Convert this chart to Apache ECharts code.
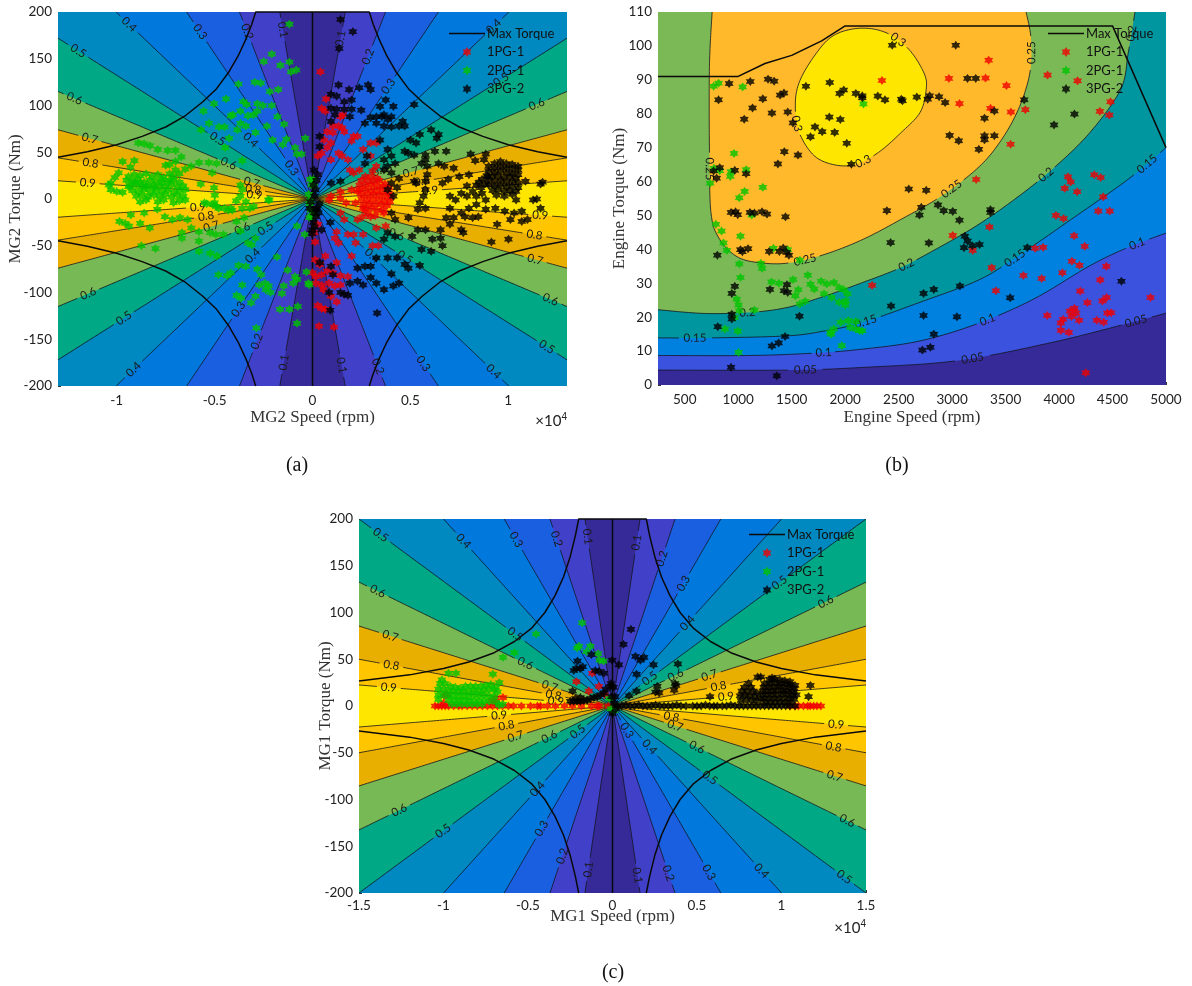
<!DOCTYPE html>
<html><head><meta charset="utf-8">
<style>html,body{margin:0;padding:0;background:#fff}#c{width:1192px;height:986px}</style>
<script src="https://cdn.jsdelivr.net/npm/echarts@6/dist/echarts.min.js"></script>
</head><body><div id="c"></div>
<script>
// ---------- legend names ----------
const seriesNames = ['Max Torque','1PG-1','2PG-1','3PG-2'];

// ---------- motor efficiency levels (rays from origin, read at the plot edge) ----------
const motorLevels = [0.1,0.2,0.3,0.4,0.5,0.6,0.7,0.8,0.9];
const motorBandColors = ['#352A98','#4040C8','#1A5FE0','#0078DC','#0088C0','#00A886','#77B954','#E8AF00','#FFC600','#FFE600'];
const rayEndSpeedA = [1670,3730,6430,10030,13000,13000,13000,13000,13000];
const rayEndTorqueA = [200,200,200,200,172,115,74,44,19.5];
const rayEndSpeedC = [1630,3700,6410,10000,15000,15000,15000,15000,15000];
const rayEndTorqueC = [200,200,200,200,200,132.5,85.5,50,22.5];

// ---------- max torque curves ----------
const maxTorqueA = [[-13000,44.6],[-11500,50.5],[-10000,58],[-8700,67],[-7500,77],[-6500,89],[-5600,104],[-4900,118],[-4300,135],[-3800,153],[-3400,171],[-3100,187],[-2900,200],[2900,200],[3100,187],[3400,171],[3800,153],[4300,135],[4900,118],[5600,104],[6500,89],[7500,77],[8700,67],[10000,58],[11500,50.5],[13000,44.6],[NaN,NaN],
 [-13000,-44.6],[-11500,-50.5],[-10000,-58],[-8700,-67],[-7500,-77],[-6500,-89],[-5600,-104],[-4900,-118],[-4300,-135],[-3800,-153],[-3400,-171],[-3100,-187],[-2900,-200],[NaN,NaN],
 [2900,-200],[3100,-187],[3400,-171],[3800,-153],[4300,-135],[4900,-118],[5600,-104],[6500,-89],[7500,-77],[8700,-67],[10000,-58],[11500,-50.5],[13000,-44.6],[NaN,NaN],[0,-200],[0,200]];
const maxTorqueC = [[-15000,26.7],[-12000,33.3],[-10000,40],[-8500,47],[-7000,57],[-5800,69],[-4800,83],[-4000,100],[-3400,118],[-2900,138],[-2500,160],[-2200,182],[-2000,200],[2000,200],[2200,182],[2500,160],[2900,138],[3400,118],[4000,100],[4800,83],[5800,69],[7000,57],[8500,47],[10000,40],[12000,33.3],[15000,26.7],[NaN,NaN],
 [-15000,-26.7],[-12000,-33.3],[-10000,-40],[-8500,-47],[-7000,-57],[-5800,-69],[-4800,-83],[-4000,-100],[-3400,-118],[-2900,-138],[-2500,-160],[-2200,-182],[-2000,-200],[NaN,NaN],
 [2000,-200],[2200,-182],[2500,-160],[2900,-138],[3400,-118],[4000,-100],[4800,-83],[5800,-69],[7000,-57],[8500,-47],[10000,-40],[12000,-33.3],[15000,-26.7],[NaN,NaN],[0,-200],[0,200]];
const maxTorqueB = [[250,91],[1000,91],[1250,94.8],[1500,97.2],[1780,101.5],[2000,105.9],[4500,105.9],[5000,70]];

// ---------- engine efficiency contours ----------
const engineBandColors = ['#352A98','#3B52DE','#0080DF','#0096A0','#7AB956','#FFB92A','#FFE600'];
const engineLevels = [0.05,0.1,0.15,0.2,0.25,0.3];
const engine005 = [[250,4.4],[1463,4.4],[2170,5.2],[3055,7.2],[3940,12.6],[4647,18.2],[5000,21.2]];
const engine010 = [[250,8.7],[1110,8.7],[1710,9.4],[2170,10.6],[2700,13],[3230,18],[3760,25.3],[4290,35.2],[4647,40.6],[5000,44.8]];
const engine015 = [[250,13.9],[756,13.9],[1463,14.5],[1817,16],[2170,18.5],[2700,24.4],[3230,30.7],[3568,37],[4116,48.9],[4647,60.7],[5000,70]];
const engine020 = [[250,22.2],[685,21.1],[1110,21.4],[1463,22.9],[1817,26.3],[2170,30.3],[2525,34.7],[2880,40.6],[3230,47],[3586,54.8],[3940,63.7],[4290,74.5],[4576,87.2],[4647,98],[4710,110]];
const engine025 = [[756,110],[731,94],[731,69.5],[745,50.9],[826,43],[1003,37.6],[1251,35.9],[1499,36.1],[1817,38.6],[2170,43],[2525,48.9],[2880,55.3],[3230,63.7],[3444,71.5],[3620,81.3],[3727,92],[3738,102],[3692,110]];
const engine030 = [[2135,105.2],[2383,103.9],[2595,99],[2737,92],[2758,87.2],[2701,80.4],[2525,74.5],[2312,68.6],[2100,65.1],[1905,64.9],[1711,67.6],[1570,74.5],[1534,82.3],[1570,89.2],[1711,97],[1888,103],[2135,105.2]];

// ---------- contour labels [level, speed, torque] ----------
const labelsA = [[.4,-9340,188],[.3,-5750,178],[.2,-3360,180],[.1,-1470,180],[.1,1390,172],[.2,2870,153],[.3,3840,120],[.5,9570,131],[.4,9240,186],[.6,11460,103],[.5,-11980,160],[.6,-12110,108],[.7,-11400,66],[.8,-11400,38.5],[.9,-11440,18],[.5,-4780,64.5],[.4,-3140,63],[.6,-4260,38.5],[.7,-3160,19],[.8,-2950,10],[.9,-2910,4.6],[.3,-945,33],[.9,-5840,-8],[.8,-5520,-18],[.7,-5130,-29],[.6,-3630,-31],[.5,-2430,-31],[.4,-3050,-60],[.3,-3840,-118],[.2,-2910,-152],[.1,-1470,-174],[.4,-9220,-182],[.5,-9630,-127],[.6,-11460,-100],[.1,1490,-179],[.2,3400,-178],[.3,5710,-177],[.4,9300,-185],[.5,11980,-158],[.6,12100,-107],[.7,11360,-64],[.8,11400,-37],[.9,11600,-17],[.6,4220,-38],[.5,4800,-61],[.4,3070,-60],[.9,5960,10],[.8,5670,19],[.7,5090,29],[.6,3450,31]];
const labelsB = [[.3,2514,102.6],[.3,2153,67],[.3,1552,77.4],[.25,3745,98],[.25,2967,59.7],[.25,1605,38],[.25,745,64],[.2,4647,103.4],[.2,3851,62.9],[.2,2560,35.5],[.2,1074,21.6],[.15,4795,65.6],[.15,3568,38.6],[.15,2188,19.5],[.15,597,13.9],[.1,4735,41],[.1,3320,20.2],[.1,1806,9.8],[.05,4710,18.5],[.05,3186,7.7],[.05,1630,4.4]];
const labelsC = [[.5,-13760,183],[.4,-8770,176],[.3,-5740,178],[.2,-3360,179],[.1,-1510,180],[.1,1420,175],[.2,2940,159],[.3,4210,130],[.4,4430,88],[.5,9950,132],[.6,12620,112],[.6,-13890,123],[.7,-13110,76],[.8,-13160,44],[.9,-13200,20],[.5,-5810,78],[.6,-5100,45],[.7,-3740,22],[.8,-3470,12],[.9,-3360,6.4],[.9,-6660,-10],[.8,-6300,-20],[.7,-5740,-32],[.6,-3810,-33.5],[.5,-2140,-28],[.4,2200,-45],[.3,760,-27],[.5,2090,30],[.6,3720,33],[.7,5650,32],[.8,6280,21],[.9,6660,10],[.8,3430,-10],[.7,3760,-20],[.9,13220,-19],[.8,13160,-43.5],[.7,13110,-74],[.6,5050,-44],[.5,5810,-77],[.6,13930,-124],[.5,13710,-182],[.4,8770,-175],[.3,5720,-177],[.2,3360,-179],[.1,1490,-180],[.1,-1510,-175],[.2,-3030,-159],[.3,-4250,-130],[.4,-4470,-89],[.5,-10080,-133],[.6,-12640,-110]];

// ---------- operating points, panel (a) ----------
const redA = [[405,136],[694,107],[463,97],[656,94],[1430,88],[1560,90],[1040,78],[1330,78],[1520,76],[750,72],[1040,71],[1620,72],[2100,67],[2300,67],[2000,62],[600,63],[945,60],[750,55],[1330,49],[1520,46],[463,49],[270,46],[945,42],[1810,42],[2970,60],[3260,60],[2585,53],[2970,46],[1910,31],[2100,28],[2390,31],[3260,35],[3070,30],
[1430,8],[850,-1],[945,3],[1430,1],[2000,10],[2300,8],[1720,-4],[1430,-15],[2200,-4],[2585,-10],[2300,-22],[2970,-19],[3650,-15],[1620,-22],[1235,-35],[1140,-42],[1330,-47],[1810,-38],[2100,-38],[2585,-38],[2200,-47],[2000,-61],[3070,-50],[3360,-50],[3260,-31],[3740,-29],
[135,-65],[656,-61],[367,-70],[1235,-68],[0,-79],[170,-83],[463,-81],[750,-77],[1040,-79],[1430,-82],[1810,-83],[170,-90],[463,-92],[850,-90],[1140,-93],[1430,-92],[560,-97],[945,-104],[1235,-110],[270,-114],[463,-117],[656,-118],[328,-136],[1100,-137],[135,-46],[77,-36],[270,-27],
[2700,24],[3000,24],[3300,22],[2500,20],[2800,20],[3100,19],[3400,20],[3700,16],[2400,15],[2700,15],[3000,15],[3300,14],[3600,13],[3900,12],[2400,10],[2700,10],[3000,9],[3300,9],[3600,8],[3900,6],[2500,5],[2800,4],[3100,5],[3400,4],[3700,3],[4000,2],[2500,0],[2800,-1],[3100,0],[3400,-1],[3700,-2],[3950,-3],[2600,-6],[2900,-5],[3200,-6],[3500,-6],[3800,-7],[2700,-11],[3000,-10],[3300,-12],[3600,-12],[2800,-16],[3200,-18],[2550,-19]];
const greenA = [[-1180,187],[-2080,155],[-2490,147],[-1180,146.5],[-1640,143],[-1100,136],[-830,138],[-2950,125],[-2640,124],[-3780,123],[-2180,115],[-1750,117],[-4420,107],[-5570,94],[-5030,102],[-3530,104],[-3360,101],[-2820,102],[-2530,100],[-2080,100],[-4170,89],[-4070,90],[-3680,94],[-3300,89],[-3010,90],[-2820,94],[-1790,88],[-5290,81],[-4780,77],[-4490,77],[-3680,81],[-3400,78],[-2330,78],[-1450,80],[-5690,74],[-4260,65],[-3840,74],[-2910,71],[-2040,63],[-1330,64],[-370,65],[-4460,55],[-890,55],[-790,48],[-560,48],[-1520,58],[-3590,41],
[-8900,60],[-8600,59],[-8300,57],[-7900,53],[-7400,52],[-7000,52],[-6700,45],[-7000,40],[-7300,37],[-7500,36],[-9700,40],[-9100,41],[-9300,34],[-9900,28],[-10100,23],[-10300,17],[-10400,15],[-10300,10],[-10000,8],[-9700,7],[-9400,13],[-9100,18],[-8800,17],[-8500,13],[-8100,15],[-7700,17],[-7300,20],[-7100,24],[-6800,27],[-6500,32],[-6200,35],[-5800,39],[-5300,39],[-4900,38],
[-9400,24],[-9100,26],[-8800,25],[-8500,27],[-8200,24],[-7900,26],[-7600,23],[-7300,27],[-7000,31],[-9500,20],[-9200,19],[-8900,21],[-8600,18],[-8300,20],[-8000,19],[-7700,21],[-7400,18],[-7100,20],[-6800,18],[-9300,14],[-9000,15],[-8700,13],[-8400,14],[-8100,12],[-7800,14],[-7500,13],[-7200,15],[-6900,13],[-6600,14],[-9200,9],[-8900,8],[-8600,10],[-8300,7],[-8000,9],[-7700,8],[-7400,10],[-7100,7],[-6800,9],[-6500,10],[-9000,3],[-8700,4],[-8400,2],[-8100,4],[-7800,3],[-7500,5],[-7200,2],[-6900,4],[-6600,3],
[-8800,-3],[-8500,-1],[-7900,-3],[-7600,-1],[-7100,-4],[-6800,-2],[-6500,-1],[-5400,-5],[-5100,-6],[-5000,-4],[-4900,-8],[-4800,-10],[-4500,-10],[-4300,-12],[-4100,-12],[-3900,-2],[-3400,-3],[-3000,-8],[-2200,-1],
[-9860,-24],[-9570,-26],[-9370,-29],[-8800,-26],[-9280,-17],[-8310,-31],[-8740,-50],[-8020,-53],[-8600,-15],[-7930,-11],[-7540,-19],[-7160,-22],[-6770,-20],[-6380,-22],[-6190,-31],[-6670,-36],[-6670,-42],[-5800,-35],[-5800,-45],[-5230,-36],[-4940,-38],[-4550,-38],[-5230,-58],[-5800,-56],[-4880,-61],[-3880,-24],[-3590,-10],[-3200,-10],[-3490,-20],[-3300,-47],[-3110,-49],[-2910,-42],[-790,-29],[-400,-38],[-3680,-34],[-4170,-10],
[-4800,-81],[-4360,-82],[-4170,-79],[-3780,-71],[-3400,-72],[-3590,-92],[-3880,-103],[-3650,-106],[-3140,-111],[-2910,-104],[-2820,-75],[-2620,-81],[-2720,-92],[-2430,-90],[-2240,-93],[-2390,-97],[-2140,-100],[-1560,-101],[-1470,-93],[-1810,-62],[-1270,-76],[-890,-83],[-790,-86],[-980,-90],[-310,-78],[-210,-90],[-170,-92],[-1660,-118],[-1180,-118],[-750,-115],[-790,-133],[-2870,-138],
[-120,21],[60,21],[-60,15],[80,14],[-200,5],[-150,-5],[-100,-12],[-150,-20],[-60,-18],[60,-16],[-100,-2],[-5710,16],[-5030,12],[-4990,4],[-3680,15],[-3590,10],[-3680,3],[-2260,-1],[-5130,28],[-5520,-4]];
const blackA = [[1430,192],[2060,179],[1370,161],[1330,122],[1870,117],[2390,119],[2840,122],[2970,117],[945,112],[1235,110],[1620,104],[2000,106],[3740,106],[3450,99],[4130,99],[5190,101],[945,97],[1235,96],[1620,96],[2000,96],[2490,95],[3650,90],[4030,88],[2970,87],[3260,88],[3550,88],[3840,85],[4610,83],[4420,78],[4710,78],[2680,81],[3260,81],[3650,78],[4030,77],[945,83],[1140,90],[1910,88],[5480,69],[6060,74],[6440,69],[6350,65],[5000,63],[5290,60],[4710,51],[4900,49],[5190,47],[5770,47],[6250,51],[6830,51],[8080,48],[8850,48],[8760,42],[8310,41],[5770,42],[5570,38],[5860,35],[6440,38],[6730,35],[7210,33],[365,67],[365,56],
[3450,63],[3840,53],[4030,46],[3650,42],[4220,38],[3840,35],[4030,28],[3650,31],[4420,22],[4030,17],[4320,12],[3840,10],[4130,3],[2680,38],[2780,46],[77,31],[270,26],[945,17],[1430,19],[5190,19],[5860,26],[5770,19],[5290,17],[6930,21],[6640,17],[7500,24],[7990,26],[5770,10],[5670,3],[5480,-4],[5770,-10],[5380,-11],[4900,-20],
[7020,3],[6830,-20],[7020,-10],[7310,-1],[7600,6],[7890,14],[7890,3],[8180,8],[8370,15],[8370,3],[8660,21],[8660,6],[8950,24],[8850,-1],[8370,-6],[7990,-10],[7600,-15],[7210,-20],[7020,-27],[7600,-33],[7700,-36],[6540,-33],[5380,-33],[5770,-33],[5090,-40],[6120,-43],[6540,-42],[6640,-50],[6060,-56],[5570,-54],[5480,-71],[9140,-46],[10010,-43],[9430,-27],[10110,-22],[10690,-24],[10980,-22],[10690,-13],[10300,-15],[9820,-13],[9340,-10],[8850,-11],[8470,-19],[8180,-20],[7790,-19],[11650,-10],[11270,-1],[11460,0],[11650,16],[11750,18],[10880,19],
[9300,38],[9600,40],[9900,38],[10200,37],[10500,35],[9000,35],[9300,33],[9600,35],[9900,33],[10200,32],[10500,31],[9000,30],[9300,28],[9600,30],[9900,28],[10200,27],[10500,26],[8900,25],[9200,24],[9500,25],[9800,23],[10100,24],[10400,22],[9000,20],[9300,19],[9600,20],[9900,18],[10200,19],[10500,17],[9000,15],[9300,14],[9600,15],[9900,13],[10200,14],[10500,12],[9200,9],[9500,10],[9800,8],[10100,9],[10400,8],[9400,4],[9800,3],[10200,5],[10400,-1],[8800,16],[8600,12],[8500,18],
[4030,-15],[4220,-22],[3840,-36],[3650,-43],[4220,-40],[170,-11],[77,-15],[170,-19],[-20,-33],[-20,-37],[463,-33],[906,-25],[2680,-72],[2300,-74],[1910,-90],[2300,-88],[2585,-92],[2970,-72],[3260,-63],[3840,-63],[4320,-63],[2970,-84],[3260,-90],[3650,-97],[4030,-80],[4130,-93],[4420,-90],[4710,-70],[4900,-74],[945,-72],[1040,-81],[367,-68],[850,-100],[906,-119],[3300,-122],[1810,-103],[1620,-102],[1430,-100],
[-100,-3],[100,3],[50,15],[-150,-10],[150,10],[250,-10],[200,20],[300,-15],[350,-5],[50,-25],[100,-30]];

// ---------- operating points, panel (b) ----------
const redB = [[2344,89.8],[3342,95.8],[2970,90.4],[3313,90.5],[3508,88.3],[3893,91.4],[4173,89.7],[3069,83],[3359,81.6],[3550,80.5],[3685,81.2],[3547,71],[4382,80.7],[4481,83.5],[4470,79.6],[3225,60.6],[4084,61.4],[4109,59.9],[4053,58],[4169,57],[4329,62],[4389,61.2],[4413,55.5],[4367,51.3],[4474,51.3],[3971,50],[4042,49.1],[3349,46.6],[3006,44.1],[4141,44],[3777,40.3],[3851,40.6],[4240,40.9],[3193,39.7],[4120,36.5],[4191,35.3],[4442,35],[3370,34.6],[3667,32.3],[3837,31.4],[4031,33.1],[4385,31],[3409,27.8],[4198,27.7],[2252,29.4],[4265,24.3],[4406,24.8],[4445,25.8],[4855,25.8],[3890,20.5],[4038,19.4],[4017,18.3],[4102,21.8],[4144,22.6],[4158,21.2],[4116,20.2],[4187,19.1],[4353,19.1],[4417,18.5],[4452,21.2],[4488,21.3],[4017,16.1],[4091,15.5],[4250,3.6]];
const greenB = [[770,88.1],[816,89],[1042,87.9],[2171,82.9],[961,68.3],[1074,63.5],[933,62.9],[926,61.5],[773,63.9],[827,63.2],[738,59.5],[1060,57.1],[1010,55.2],[1230,58.3],[791,47.4],[844,45.4],[862,41.9],[894,39.7],[1021,43.9],[1127,50.1],[1329,40.3],[1463,39.9],[1576,36.8],[1010,35.7],[1212,35.9],[1223,34.4],[1021,31.7],[1311,30.4],[1382,30],[1513,31.1],[1651,32.4],[1676,29.7],[1711,28.3],[1775,30.6],[1828,29.8],[1895,30.2],[1803,26.9],[1874,25.8],[1944,28.7],[1987,28.1],[2022,26.9],[1944,24.4],[2004,24.8],[2001,23.6],[1562,28.1],[1534,26.3],[1576,23.9],[1626,24.7],[986,25.3],[1003,23.6],[1010,21.9],[1152,22.1],[968,19.9],[876,16.5],[996,15.9],[1003,9.6],[1860,15.5],[1870,15],[1895,16.5],[1958,18.5],[2029,19],[2100,18.7],[2047,17],[2100,16.5],[2135,16],[2160,16],[1969,11.6]];
const blackB = [[915,88.9],[1113,89.5],[1279,90.2],[1336,89.6],[1633,88.1],[1856,89.2],[1948,86],[1987,87],[2100,86],[2160,85.3],[2160,84.7],[2305,85.2],[2372,84.1],[2525,84.3],[2536,83.8],[2670,84.9],[2772,84.3],[2790,85.3],[2878,85],[2935,83.3],[2440,100.2],[3034,100.2],[3144,90.4],[3221,90.4],[816,84.1],[1056,78.4],[1134,81.7],[1230,84.4],[1392,85.5],[1428,86.1],[1315,80.2],[1463,80.5],[1512,77.3],[1676,73.2],[1718,76.1],[1785,74.7],[1902,74.5],[1852,79],[1955,78.3],[2015,71.3],[2058,65.1],[1559,67.8],[1431,68.8],[1371,65.2],[770,63.1],[827,64.1],[798,61],[968,63.3],[1074,62.3],[933,50.9],[975,51.1],[996,50.2],[1110,50.9],[1152,50.7],[1223,51.1],[1269,50.4],[1442,49.6],[805,38.3],[1021,39.9],[1039,39.3],[1092,40.2],[1290,39.4],[1385,39.4],[1421,40.4],[1453,39.1],[1474,38.3],[1297,28.2],[1428,27.8],[1456,29.6],[1463,27.3],[968,29.1],[940,27],[940,19.5],[940,20.9],[809,17.2],[1438,14.3],[1378,12.4],[1315,11.5],[933,5.2],[1361,2.7],[1573,20.3],
[2390,51.4],[2425,42],[2595,57.8],[2758,57.4],[2712,52.4],[2695,50.1],[2868,53.1],[2921,51.4],[3006,51.2],[3069,48.6],[2783,41.9],[3119,43.9],[3144,42.5],[3111,40.5],[3189,41.1],[3256,41.4],[3359,50.9],[3359,51.7],[3703,40.5],[2429,23.3],[2733,20.5],[2829,15],[2829,28.2],[2733,27],[2722,10.3],[2797,11.1],[3073,29.2],[3045,20.1],[3543,25.7],[4583,30.6],[2977,73.6],[3062,72],[3250,69.5],[3303,78.7],[3303,73.5],[3303,72.3],[3395,73.5],[3395,80.8],[3674,84.1],[3953,76.7],[4144,79.9]];

// ---------- operating points, panel (c) ----------
const redC = [[-10500,0],[-10300,0],[-10100,0],[-9900,0],[-9700,0],[-9400,0],[-9100,0],[-8900,0],[-8600,0],[-8300,0],[-8000,0],[-7700,0],[-7400,0],[-7100,0],[-6800,0],[-6500,0],[-6160,0],[-5860,0],[-5390,0],[-4850,0],[-4440,0],[-4260,0],[-3850,0],[-3380,0],[-2840,0],[-2370,0],[-1840,0],[-1240,0],[-890,0],[-800,0],[-245,0],[-1400,16],[-2140,26],[-1200,35],[-800,21],[-470,12],[-9800,12],[-9930,11],[-6920,8],[-6480,9],[-7150,6],[-10000,3],[-6900,3],[10500,0],[10800,0],[11000,0],[11300,0],[11550,0],[11700,0],[11900,0],[12100,0],[12330,0]];
const greenC = [[-1800,89],[-4520,77],[-5810,57],[-6480,52],[-1980,64],[-1310,64],[-2090,62],[-1540,58],[-850,56],[-760,49],[-530,48],[-9700,35],[-9260,35],[-7080,34],[-6700,25],
[-10100,28],[-10200,24],[-9900,24],[-9600,21],[-9300,20],[-9000,19],[-8700,21],[-8400,21],[-8100,21],[-7800,21],[-7500,22],[-7200,23],[-6900,20],[-10300,18],[-10000,18],[-9700,16],[-9400,16],[-9100,15],[-8800,16],[-8500,15],[-8200,17],[-7900,16],[-7600,17],[-7300,18],[-7000,17],[-6800,15],[-10300,12],[-10000,12],[-9700,11],[-9400,11],[-9100,10],[-8800,11],[-8500,10],[-8200,12],[-7900,11],[-7600,12],[-7300,11],[-7000,10],[-10300,7],[-9700,6],[-9400,6],[-9100,5],[-8800,6],[-8500,5],[-8200,6],[-7900,5],[-7600,6],[-7300,5],[-6900,4],[-6500,2],[-6700,1],[-9500,2],[-9200,2],[-8900,2],[-8600,2],[-8300,2],[-8000,2],[-7700,2],[-200,8],[-100,-3],[100,-5]];
const blackC = [[300,0],[550,0],[800,1],[1050,0],[1300,0],[1550,1],[1800,0],[2050,0],[2300,0],[2550,1],[2800,0],[3050,0],[3300,0],[3550,0],[3800,1],[4050,0],[4350,0],[4750,0],[5000,0],[5250,0],[5500,1],[5750,0],[6000,0],[6200,0],[6500,0],[6750,0],[7000,1],[7250,0],[7500,0],[7750,0],[8000,0],[8250,0],[8500,0],[8750,0],[9000,0],[9250,0],[9500,0],[9750,0],[10000,0],[10250,0],[10500,0],[10800,0],
[8590,31],[8770,31],[9440,30],[11710,22],[11600,10],[5770,10],[3760,22],
[9300,28],[9600,29],[9900,28],[10200,27],[10500,26],[9000,24],[9300,24],[9600,25],[9900,24],[10200,24],[10500,23],[10800,22],[8950,20],[9250,20],[9550,20],[9850,21],[10150,20],[10450,20],[10750,19],[8900,16],[9200,16],[9500,16],[9800,17],[10100,16],[10400,16],[10700,15],[10880,12],[8900,12],[9200,12],[9500,12],[9800,12],[10100,13],[10400,12],[10700,11],[8950,8],[9250,8],[9550,8],[9850,8],[10150,8],[10450,8],[10750,7],[9000,4],[9300,4],[9600,4],[9900,4],[10200,4],[10500,4],
[8050,24],[7800,20],[8200,20],[7650,16],[7950,16],[8300,16],[8550,14],[7550,11],[7850,12],[8150,11],[8450,10],[7600,6],[7900,7],[8200,6],[8500,5],[8750,8],
[-2360,16],[-2070,48],[-2290,38],[-2140,40],[-1760,42],[-1910,40],[-1250,55],[-1020,38],[-800,37],[-510,35],[-130,21],[-90,24],[-20,49],[380,44],[1090,82],[650,66],[1360,53],[1650,49],[1870,52],[1420,34],[2430,44],[3870,45],[3700,24],[3650,17],[2650,21],[2760,14],[2540,15],[1420,16],[980,11],
[-2500,5],[-2300,5],[-2100,5],[-1900,5],[-1700,6],[-1500,6],[-1300,8],[-1100,9],[-900,10],[-700,12],[-500,14],[-400,18],[-2200,8],[-1900,9],[100,3],[150,10],[60,20],[-50,10],[200,-3],[0,-8]];

// ---------- tick values ----------
const speedTicksA = [-10000,-5000,0,5000,10000];
const speedTicksB = [500,1000,1500,2000,2500,3000,3500,4000,4500,5000];
const speedTicksC = [-15000,-10000,-5000,0,5000,10000,15000];
const motorTorqueTicks = [-200,-150,-100,-50,0,50,100,150,200];
const engineTorqueTicks = [0,10,20,30,40,50,60,70,80,90,100,110];

// ---------- helpers ----------
const starSym = 'path://M' + Array.from({length:12},(_,i)=>{
  const r = i%2 ? 6 : 10, a = i*Math.PI/6;
  return (10+r*Math.sin(a)).toFixed(2)+' '+(10-r*Math.cos(a)).toFixed(2);
}).join('L') + 'Z';
const lineIcon = 'path://M0 0h.01v8h-.01zM0 3.25H36V4.75H0Z';

function crPoints(px, closed){        // Catmull-Rom through the projected pixels
  const out=[], n=px.length;
  const at=i=> closed ? px[((i%(n-1))+(n-1))%(n-1)] : px[Math.max(0,Math.min(n-1,i))];
  for(let i=0;i<n-1;i++){
    const p0=at(i-1),p1=at(i),p2=at(i+1),p3=at(i+2);
    const steps=Math.max(2,Math.ceil(Math.hypot(p2[0]-p1[0],p2[1]-p1[1])/3));
    for(let s=0;s<steps;s++){
      const t=s/steps,t2=t*t,t3=t2*t;
      out.push([0,1].map(k=>0.5*(2*p1[k]+(p2[k]-p0[k])*t+(2*p0[k]-5*p1[k]+4*p2[k]-p3[k])*t2+(3*p1[k]-p0[k]-3*p2[k]+p3[k])*t3)));
    }
  }
  out.push(px[n-1]);
  return out;
}
function straightPoints(px){
  const out=[];
  for(let i=0;i<px.length-1;i++){
    const a=px[i],b=px[i+1],steps=Math.max(1,Math.ceil(Math.hypot(b[0]-a[0],b[1]-a[1])/3));
    for(let s=0;s<steps;s++) out.push([a[0]+(b[0]-a[0])*s/steps,a[1]+(b[1]-a[1])*s/steps]);
  }
  out.push(px[px.length-1]);
  return out;
}
const labelFont = '11.5px Lato';
function contourSeries(ax, contours, labels, smooth){
  return {
    type:'custom', coordinateSystem:'cartesian2d', xAxisIndex:ax, yAxisIndex:ax, clip:true, silent:true, z:2, animation:false,
    data: contours.map((c,i)=>[i,i]), encode:{x:0,y:1},
    renderItem(params, api){
      const all = contours.map(c=>{
        const px=c.pts.map(p=>api.coord(p));
        return smooth ? crPoints(px, c.closed) : straightPoints(px);
      });
      const me = contours[params.dataIndex], dense = all[params.dataIndex], children=[], gaps=[];
      labels.forEach(L=>{
        if(Math.abs(L[0]-me.level)>1e-6) return;
        const q=api.coord([L[1],L[2]]);
        let best=Infinity, owner=-1, bi=0;
        contours.forEach((c,ci)=>{
          if(Math.abs(c.level-me.level)>1e-6) return;
          all[ci].forEach((p,j)=>{ const d=Math.hypot(p[0]-q[0],p[1]-q[1]); if(d<best){best=d;owner=ci;bi=j;} });
        });
        if(owner!==params.dataIndex) return;
        const a=dense[Math.max(0,bi-3)], b=dense[Math.min(dense.length-1,bi+3)], p=dense[bi];
        let ang=Math.atan2(b[1]-a[1],b[0]-a[0]);
        if(ang>Math.PI/2) ang-=Math.PI; if(ang<-Math.PI/2) ang+=Math.PI;
        const txt=String(L[0]).replace(/^\./,'0.');
        gaps.push([p[0],p[1],txt.length>3?15:11]);
        children.push({type:'text',x:p[0],y:p[1],rotation:-ang,z2:5,style:{text:txt,fill:'#1a1a1a',font:labelFont,textAlign:'center',textVerticalAlign:'middle',verticalAlign:'middle'}});
      });
      let run=[];
      const flush=()=>{ if(run.length>1) children.push({type:'polyline',shape:{points:run},style:{stroke:'#14141e',lineWidth:0.8,fill:'none'}}); run=[]; };
      dense.forEach(p=>{
        if(gaps.some(g=>Math.hypot(p[0]-g[0],p[1]-g[1])<g[2])) flush(); else run.push(p);
      });
      flush();
      return {type:'group',children};
    }
  };
}
function motorParts(ax, endSpeed, endTorque, xMax, labels){
  const colors = motorBandColors;
  const wedges = motorLevels.map((lv,i)=>({i, s:endTorque[i]/endSpeed[i], x:endSpeed[i], y:endTorque[i]}));
  const fill = {
    type:'custom', coordinateSystem:'cartesian2d', xAxisIndex:ax, yAxisIndex:ax, clip:true, silent:true, z:1, animation:false,
    data: [[0,0]].concat(wedges.flatMap((w,i)=>[[i+1,1],[i+1,-1]])), encode:{x:0,y:1},
    renderItem(params, api){
      const d=params.dataIndex;
      if(d===0){
        const pts=[[-xMax,-200],[xMax,-200],[xMax,200],[-xMax,200]].map(p=>api.coord(p));
        return {type:'polygon',shape:{points:pts},style:{fill:colors[0]}};
      }
      const w=wedges[Math.floor((d-1)/2)], side=(d-1)%2?-1:1, k=30;
      const pts=[[0,0],[side*w.x*k,w.y*k],[side*w.x*k,-w.y*k]].map(p=>api.coord(p));
      return {type:'polygon',shape:{points:pts},style:{fill:colors[w.i+1]}};
    }
  };
  const contours = wedges.flatMap((w,i)=>[
    {level:motorLevels[i],pts:[[-w.x,w.y],[w.x,-w.y]]},
    {level:motorLevels[i],pts:[[-w.x,-w.y],[w.x,w.y]]}
  ]);
  return [fill, contourSeries(ax, contours, labels, false)];
}
function engineParts(ax){
  const curves=[engine005,engine010,engine015,engine020,engine025,engine030];
  const fill = {
    type:'custom', coordinateSystem:'cartesian2d', xAxisIndex:ax, yAxisIndex:ax, clip:true, silent:true, z:1, animation:false,
    data: [[0,0]].concat(curves.map((c,i)=>[i+1,1])), encode:{x:0,y:1},
    renderItem(params, api){
      const d=params.dataIndex;
      if(d===0){
        const pts=[[250,0],[5000,0],[5000,110],[250,110]].map(p=>api.coord(p));
        return {type:'polygon',shape:{points:pts},style:{fill:engineBandColors[0]}};
      }
      const c=curves[d-1], closed=(d===6);
      let dense=crPoints(c.map(p=>api.coord(p)),closed);
      if(d<=3) dense=dense.concat([api.coord([5000,110]),api.coord([250,110])]);
      else if(d===4) dense=dense.concat([api.coord([250,110])]);
      return {type:'polygon',shape:{points:dense},style:{fill:engineBandColors[d]}};
    }
  };
  const contours=curves.map((c,i)=>({level:engineLevels[i],pts:c,closed:i===5}));
  return [fill, contourSeries(ax, contours, labelsB, true)];
}
function maxLine(ax,data){
  return {type:'line',name:seriesNames[0],xAxisIndex:ax,yAxisIndex:ax,data,symbol:'none',silent:true,z:3,animation:false,
    connectNulls:false,clip:false,lineStyle:{color:'#0a0a0a',width:1.5},itemStyle:{color:'#0a0a0a'}};
}
function pts(ax,i,data,color){
  return {type:'scatter',name:seriesNames[i],xAxisIndex:ax,yAxisIndex:ax,data,symbol:starSym,symbolSize:9,silent:true,z:4,animation:false,
    large:false,clip:true,itemStyle:{color}};
}
function xAx(i,min,max,ticks,name,gap,fmt,margin){
  return {type:'value',gridIndex:i,min,max,name,nameLocation:'middle',nameGap:gap,nameMoveOverlap:false,
    nameTextStyle:{fontFamily:'Liberation Serif',fontSize:17,color:'#333'},
    splitLine:{show:false},axisLine:{show:false,onZero:false},
    axisTick:{show:true,inside:true,length:3,customValues:ticks,lineStyle:{color:'#333'}},
    axisLabel:{customValues:ticks,formatter:fmt,fontFamily:'Lato',fontSize:13.5,color:'#222',margin,hideOverlap:false}};
}
function yAx(i,min,max,ticks,name,gap){
  return {type:'value',gridIndex:i,min,max,name,nameLocation:'middle',nameGap:gap,nameMoveOverlap:false,
    nameTextStyle:{fontFamily:'Liberation Serif',fontSize:17,color:'#333'},
    splitLine:{show:false},axisLine:{show:false,onZero:false},
    axisTick:{show:true,inside:true,length:3,customValues:ticks,lineStyle:{color:'#333'}},
    axisLabel:{customValues:ticks,fontFamily:'Lato',fontSize:13.5,color:'#222',margin:6}};
}
const e4 = v => v===0 ? '0' : String(v/10000);
function leg(left,top){
  return {show:true,left,top,orient:'vertical',
    data:[{name:seriesNames[0],icon:lineIcon,itemStyle:{color:'#0a0a0a'}},seriesNames[1],seriesNames[2],seriesNames[3]],
    selectedMode:false,itemWidth:36,itemHeight:10,itemGap:5.5,
    textStyle:{fontFamily:'Lato',fontSize:13,color:'#111',padding:[0,0,0,-3]},padding:0,z:10,backgroundColor:'transparent',inactiveColor:'#111'};
}
function capText(x,y,t){return {type:'text',x,y,z:20,silent:true,style:{text:t,font:'20px Liberation Serif',fill:'#111',textAlign:'center',textVerticalAlign:'middle'}};}
function expText(x,y){return {type:'text',x,y,z:20,silent:true,style:{text:'×10{s|4}',font:'15px Lato',fill:'#222',textAlign:'right',textVerticalAlign:'middle',rich:{s:{fontSize:10,verticalAlign:'top',font:'10px Lato',fill:'#222',padding:[0,0,7,0]}}}};}

const chart = echarts.init(document.getElementById('c'),null,{renderer:'canvas'});
chart.setOption({
  animation:false,
  backgroundColor:'#fff',
  grid:[
    {left:58,top:12,width:509,height:374,containLabel:false},
    {left:658,top:12,width:508,height:373,containLabel:false},
    {left:359,top:519,width:507,height:374,containLabel:false}
  ],
  xAxis:[
    xAx(0,-13000,13000,speedTicksA,'MG2 Speed (rpm)',23,e4,8),
    xAx(1,250,5000,speedTicksB,'Engine Speed (rpm)',24,v=>String(v),8),
    xAx(2,-15000,15000,speedTicksC,'MG1 Speed (rpm)',15,e4,6)
  ],
  yAxis:[
    yAx(0,-200,200,motorTorqueTicks,'MG2 Torque (Nm)',34),
    yAx(1,0,110,engineTorqueTicks,'Engine Torque (Nm)',30),
    yAx(2,-200,200,motorTorqueTicks,'MG1 Torque (Nm)',25)
  ],
  legend:[leg(449,27),leg(1048,27),leg(749,528)],
  series:[
    ...motorParts(0,rayEndSpeedA,rayEndTorqueA,13000,labelsA),
    maxLine(0,maxTorqueA),pts(0,1,redA,'#F00000'),pts(0,2,greenA,'#00C400'),pts(0,3,blackA,'#000'),
    ...engineParts(1),
    maxLine(1,maxTorqueB),pts(1,1,redB,'#F00000'),pts(1,2,greenB,'#00C400'),pts(1,3,blackB,'#000'),
    ...motorParts(2,rayEndSpeedC,rayEndTorqueC,15000,labelsC),
    maxLine(2,maxTorqueC),pts(2,1,redC,'#F00000'),pts(2,2,greenC,'#00C400'),pts(2,3,blackC,'#000')
  ],
  graphic:[
    capText(297,466,'(a)'),capText(897,466,'(b)'),capText(613,973,'(c)'),
    expText(567,421),expText(866,928)
  ]
});
</script></body></html>
